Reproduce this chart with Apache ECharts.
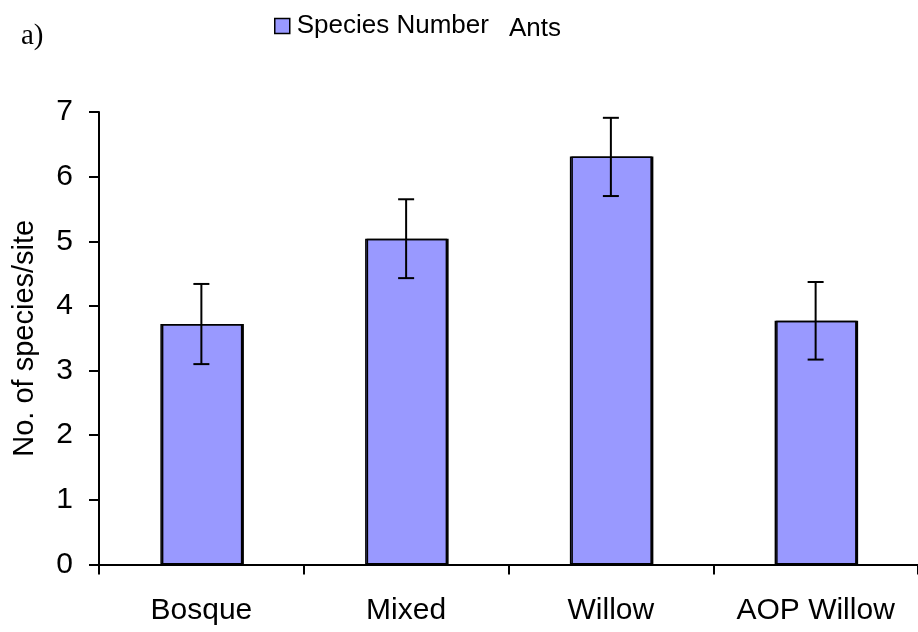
<!DOCTYPE html>
<html>
<head>
<meta charset="utf-8">
<script src="https://cdn.jsdelivr.net/npm/echarts@6/dist/echarts.min.js"></script>
<style>html,body{margin:0;padding:0;background:#fff}#c{width:918px;height:632px}</style>
</head>
<body>
<div id="c"></div>
<script>
const categories = ['Bosque', 'Mixed', 'Willow', 'AOP Willow'];
const speciesNumber = [3.72, 5.04, 6.31, 3.77];
const errLow = [3.10, 4.43, 5.70, 3.17];
const errHigh = [4.34, 5.65, 6.91, 4.37];
const yTicks = [0, 1, 2, 3, 4, 5, 6, 7];

const chart = echarts.init(document.getElementById('c'));
const font = 'Liberation Sans, Arial, sans-serif';
const errData = categories.map((c, i) => [i, errLow[i], errHigh[i]]);

chart.setOption({
  animation: false,
  backgroundColor: '#fff',
  textStyle: { fontFamily: font },
  legend: {
    left: 269, top: 8,
    itemWidth: 15, itemHeight: 15, itemGap: 6,
    icon: 'rect',
    textStyle: { fontFamily: font, fontSize: 26, color: '#000', padding: [0, 0, 0, 2] },
    data: [{ name: 'Species Number', itemStyle: { color: '#9999ff', borderColor: '#000', borderWidth: 1.5 } }]
  },
  graphic: [
    { type: 'text', left: 509, top: 16, style: { text: 'Ants', font: '26px Liberation Sans', fill: '#000' } },
    { type: 'text', left: 21, top: 22, style: { text: 'a)', font: '29px Liberation Serif', fill: '#000' } }
  ],
  grid: { left: 99, top: 112, width: 825, bottom: 67.5 },
  xAxis: {
    type: 'category',
    data: categories,
    axisLine: { lineStyle: { color: '#000', width: 2 } },
    axisTick: { show: true, interval: 0, alignWithLabel: false, length: 10, lineStyle: { color: '#000', width: 2 } },
    axisLabel: { interval: 0, color: '#000', fontSize: 30, margin: 31, fontFamily: font },
    splitLine: { show: false }
  },
  yAxis: {
    type: 'value',
    min: yTicks[0], max: yTicks[yTicks.length - 1], interval: 1,
    name: 'No. of species/site',
    nameLocation: 'middle',
    nameGap: 60,
    nameTextStyle: { color: '#000', fontSize: 29, fontFamily: font },
    axisLine: { show: true, lineStyle: { color: '#000', width: 2 } },
    axisTick: { show: true, length: 10, lineStyle: { color: '#000', width: 2 } },
    axisLabel: { color: '#000', fontSize: 30, margin: 26, fontFamily: font },
    splitLine: { show: false }
  },
  series: [
    {
      name: 'Species Number',
      type: 'bar',
      data: speciesNumber,
      barWidth: 82,
      itemStyle: { color: '#9999ff', borderColor: '#000', borderWidth: 1.5, shadowColor: '#000', shadowOffsetX: 1.5, shadowBlur: 0 }
    },
    {
      name: 'err',
      type: 'custom',
      data: errData,
      z: 10,
      renderItem: function (params, api) {
        const x = api.value(0);
        const lo = api.coord([x, api.value(1)]);
        const hi = api.coord([x, api.value(2)]);
        const cap = 8;
        const style = { stroke: '#000', lineWidth: 2 };
        return {
          type: 'group',
          children: [
            { type: 'line', shape: { x1: lo[0], y1: lo[1], x2: hi[0], y2: hi[1] }, style: style },
            { type: 'line', shape: { x1: lo[0] - cap, y1: lo[1], x2: lo[0] + cap, y2: lo[1] }, style: style },
            { type: 'line', shape: { x1: hi[0] - cap, y1: hi[1], x2: hi[0] + cap, y2: hi[1] }, style: style }
          ]
        };
      }
    }
  ]
});
</script>
</body>
</html>
